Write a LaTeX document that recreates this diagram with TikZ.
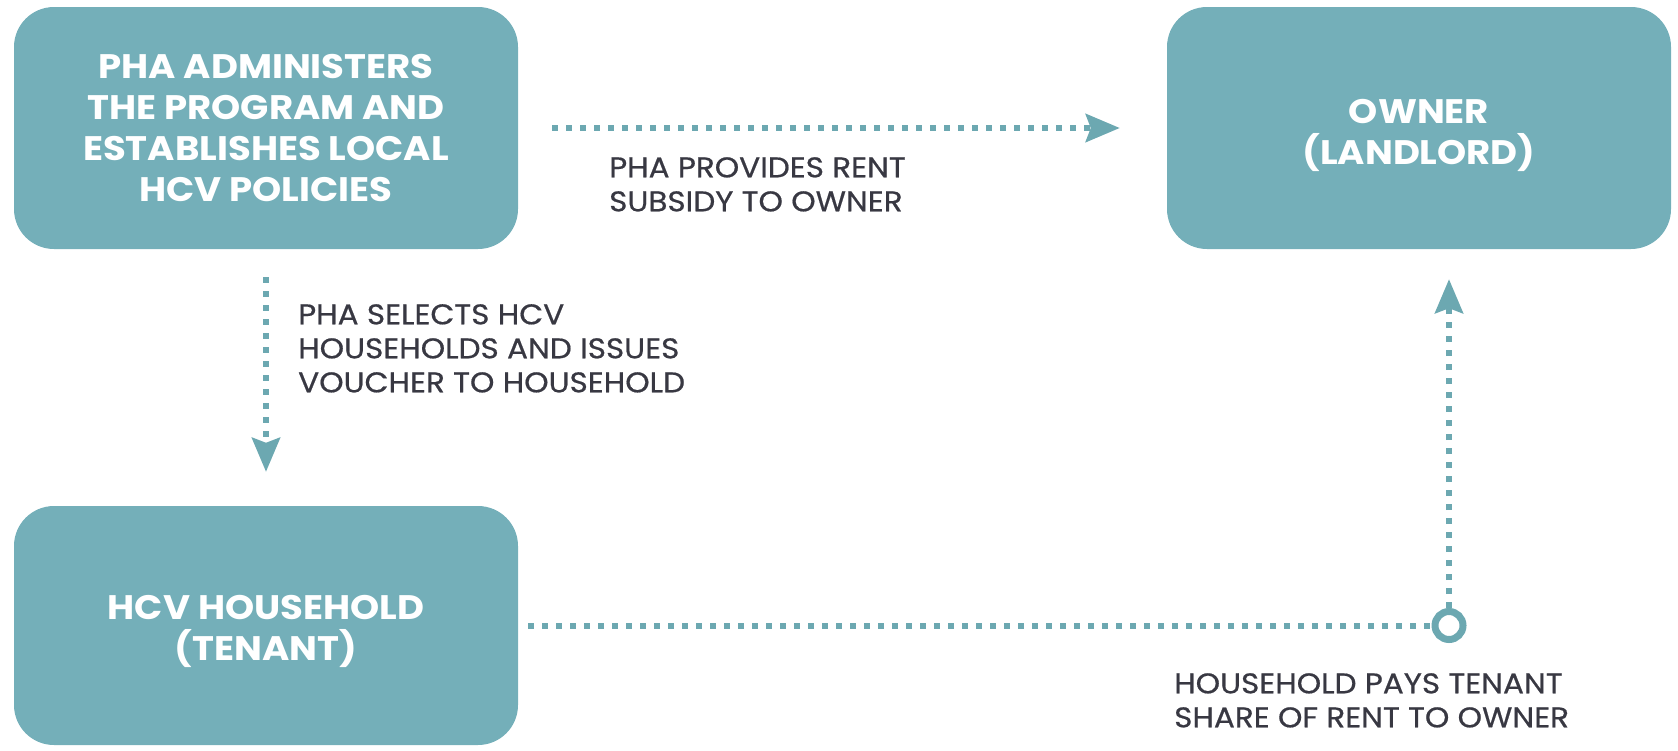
\documentclass[tikz,border=0pt]{standalone}
\usepackage{fontspec}
\setmainfont{Poppins}
\newfontfamily\boxfont{Poppins}[FakeStretch=1.09]
\newfontfamily\labfont{Poppins}[FakeStretch=1.09,FakeBold=0.6]
\usetikzlibrary{arrows.meta}
\definecolor{boxfill}{HTML}{74AFB9}
\definecolor{arr}{HTML}{6CA8B1}
\definecolor{lbl}{HTML}{383842}
\newcommand{\dropline}[1]{\rule{0pt}{#1}}
\begin{document}
\begin{tikzpicture}[x=1pt,y=-1pt,
 box/.style={fill=boxfill, rounded corners=40pt, minimum width=504pt, minimum height=242pt, text=white, align=center, font=\boxfont\bfseries\fontsize{34}{41}\selectfont, inner sep=0pt},
 lab/.style={text=lbl, align=left, anchor=north west, inner sep=0pt, font=\labfont\fontsize{28.5}{34}\selectfont},
 dots/.style={draw=arr, line width=6pt, dash pattern=on 6pt off 8pt},
 tipped/.style={-{Stealth[length=34pt,width=28pt,inset=5pt]}},
 ring/.style={circle, draw=arr, line width=7pt, fill=white, minimum size=28pt, inner sep=0pt}
]
\useasboundingbox (0,0) rectangle (1678,750);
\node[box] (pha) at (266,128) {PHA ADMINISTERS\\THE PROGRAM AND\\ESTABLISHES LOCAL\\HCV POLICIES};
\node[box] (own) at (1419,128) {\dropline{40pt}OWNER\\(LANDLORD)};
\node[box, minimum height=239pt] (hh) at (266,625.5) {\dropline{36pt}HCV HOUSEHOLD\\(TENANT)};
\node[ring] (c) at (1449,625.5) {};
\draw[dots,tipped,shorten <=34pt,shorten >=47pt] (pha.east) -- (pha.east -| own.west);
\draw[dots,tipped,shorten <=28pt,shorten >=34pt] (pha.south) -- (hh.north);
\draw[dots,shorten <=10pt] (hh.east) -- (c.west);
\draw[dots,tipped,shorten >=30pt] (c.north) -- (c.north |- own.south);
\node[lab] (l1) at (609,157) {PHA PROVIDES RENT\\SUBSIDY TO OWNER};
\node[lab] (l2) at (298,304) {PHA SELECTS HCV\\HOUSEHOLDS AND ISSUES\\VOUCHER TO HOUSEHOLD};
\node[lab] (l3) at (1174,673) {HOUSEHOLD PAYS TENANT\\SHARE OF RENT TO OWNER};
\end{tikzpicture}
\end{document}
